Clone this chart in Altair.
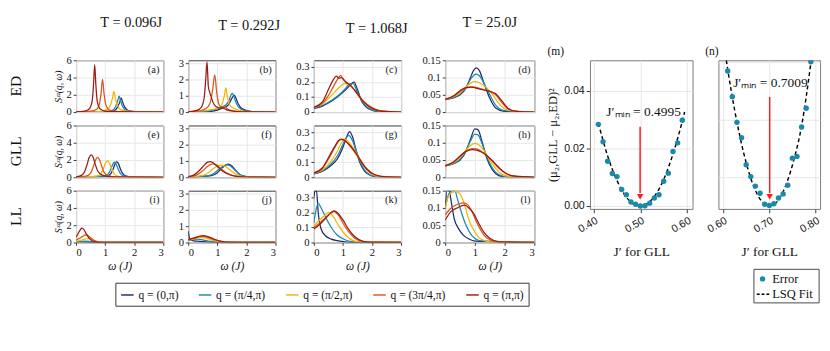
import altair as alt
import pandas as pd

SERIF = "Liberation Serif"
SANS = "Liberation Sans"

Q_LABELS = ["q = (0,π)", "q = (π/4,π)", "q = (π/2,π)", "q = (3π/4,π)", "q = (π,π)"]
Q_COLORS = ["#1d2b6e", "#1d88b2", "#f3b600", "#d8561d", "#9c1b10"]

TEMPS = ["T = 0.096J", "T = 0.292J", "T = 1.068J", "T = 25.0J"]
TITLE_DX = [12, 18, 20, 0]
METHODS = ["ED", "GLL", "LL"]
LETTERS = list("abcdefghijkl")
OMEGA_TICKS = [0, 1, 2, 3]
Y_DOMAINS = [[0, 6], [0, 3.2], [0, 0.345], [0, 0.15]]
Y_TICKS = [[0, 2, 4, 6], [0, 1, 2, 3], [0, 0.1, 0.2, 0.3], [0, 0.05, 0.1, 0.15]]
Y_FORMATS = ["d", "d", ".1~f", ".2~f"]
Y_EXTENT = [None, 16, 25, 29]

# ---- spectra: each panel lists (omega, S) for q = (0,pi), (pi/4,pi), (pi/2,pi), (3pi/4,pi), (pi,pi)
ED_A = [
    ([0, 1.05, 1.32, 1.43, 1.5, 1.55, 1.6, 1.67, 1.8, 2.05, 2.5, 3], [0.01, 0.04, 0.18, 0.6, 1.15, 1.65, 1.15, 0.6, 0.18, 0.05, 0.01, 0]),
    ([0, 1.0, 1.25, 1.36, 1.43, 1.48, 1.53, 1.6, 1.72, 2.0, 2.4, 3], [0.01, 0.05, 0.2, 0.65, 1.3, 1.85, 1.3, 0.65, 0.2, 0.06, 0.02, 0]),
    ([0, 0.8, 1.05, 1.18, 1.25, 1.3, 1.35, 1.42, 1.55, 1.8, 2.2, 3], [0.01, 0.06, 0.25, 0.8, 1.6, 2.4, 1.6, 0.8, 0.25, 0.08, 0.02, 0]),
    ([0, 0.5, 0.7, 0.8, 0.86, 0.91, 0.96, 1.02, 1.12, 1.3, 1.7, 3], [0.02, 0.1, 0.3, 0.9, 2.2, 3.8, 2.2, 0.9, 0.3, 0.1, 0.03, 0]),
    ([0, 0.3, 0.45, 0.55, 0.6, 0.64, 0.68, 0.73, 0.83, 1.0, 1.3, 3], [0.03, 0.12, 0.35, 1.2, 3.2, 5.5, 3.2, 1.2, 0.35, 0.12, 0.04, 0]),
]
ED_B = [
    ([0, 0.7, 1.0, 1.2, 1.38, 1.5, 1.55, 1.58, 1.63, 1.72, 1.88, 2.2, 3], [0.01, 0.03, 0.12, 0.25, 0.45, 0.85, 1.0, 1.05, 0.9, 0.5, 0.18, 0.03, 0]),
    ([0, 0.6, 0.9, 1.1, 1.3, 1.42, 1.48, 1.52, 1.57, 1.65, 1.8, 2.1, 3], [0.01, 0.04, 0.15, 0.28, 0.45, 0.8, 1.1, 1.15, 0.95, 0.55, 0.2, 0.04, 0]),
    ([0, 0.5, 0.8, 1.05, 1.18, 1.25, 1.29, 1.34, 1.42, 1.55, 1.75, 2.1, 3], [0.01, 0.08, 0.15, 0.25, 0.6, 1.1, 1.5, 1.0, 0.45, 0.25, 0.1, 0.02, 0]),
    ([0, 0.4, 0.6, 0.75, 0.84, 0.91, 0.98, 1.05, 1.15, 1.25, 1.45, 1.8, 3], [0.02, 0.08, 0.2, 0.55, 1.4, 2.3, 1.2, 0.5, 0.3, 0.3, 0.1, 0.02, 0]),
    ([0, 0.3, 0.45, 0.55, 0.6, 0.645, 0.69, 0.74, 0.78, 0.85, 0.95, 1.1, 1.17, 1.3, 1.6, 2.0, 3], [0.02, 0.1, 0.3, 0.9, 2.0, 3.1, 1.6, 1.2, 1.0, 0.6, 0.35, 0.25, 0.26, 0.15, 0.05, 0.01, 0]),
]
ED_C = [
    ([0, 0.3, 0.5, 0.7, 0.9, 1.1, 1.25, 1.38, 1.5, 1.65, 2.0, 2.3, 3], [0.025, 0.04, 0.06, 0.085, 0.115, 0.15, 0.18, 0.2, 0.15, 0.07, 0.012, 0.002, 0]),
    ([0, 0.3, 0.5, 0.7, 0.9, 1.1, 1.25, 1.35, 1.5, 1.7, 2.0, 2.3, 3], [0.028, 0.045, 0.065, 0.09, 0.12, 0.16, 0.19, 0.19, 0.13, 0.06, 0.015, 0.003, 0]),
    ([0, 0.3, 0.5, 0.7, 0.9, 1.05, 1.2, 1.35, 1.5, 1.7, 2.0, 2.3, 3], [0.03, 0.055, 0.09, 0.13, 0.17, 0.19, 0.185, 0.16, 0.12, 0.07, 0.025, 0.006, 0]),
    ([0, 0.3, 0.5, 0.7, 0.85, 0.92, 1.0, 1.1, 1.3, 1.5, 1.7, 2.0, 2.3, 3], [0.03, 0.06, 0.11, 0.18, 0.23, 0.245, 0.22, 0.2, 0.17, 0.12, 0.075, 0.03, 0.008, 0]),
    ([0, 0.3, 0.5, 0.65, 0.78, 0.85, 0.95, 1.1, 1.3, 1.5, 1.7, 2.0, 2.3, 3], [0.032, 0.07, 0.15, 0.21, 0.24, 0.225, 0.23, 0.2, 0.17, 0.12, 0.07, 0.025, 0.007, 0]),
]
ED_D = [
    ([0, 0.3, 0.5, 0.7, 0.85, 0.95, 1.05, 1.15, 1.3, 1.5, 1.7, 2.0, 3], [0.037, 0.042, 0.05, 0.07, 0.1, 0.12, 0.128, 0.12, 0.085, 0.04, 0.012, 0.002, 0]),
    ([0, 0.3, 0.5, 0.7, 0.85, 1.05, 1.2, 1.35, 1.5, 1.7, 2.0, 3], [0.037, 0.043, 0.052, 0.072, 0.095, 0.11, 0.1, 0.075, 0.05, 0.02, 0.004, 0]),
    ([0, 0.3, 0.5, 0.7, 0.85, 1.0, 1.2, 1.4, 1.6, 1.8, 2.1, 3], [0.037, 0.045, 0.056, 0.073, 0.084, 0.088, 0.083, 0.07, 0.05, 0.025, 0.006, 0]),
    ([0, 0.3, 0.5, 0.7, 0.9, 1.1, 1.3, 1.5, 1.7, 1.9, 2.1, 2.4, 3], [0.037, 0.047, 0.06, 0.07, 0.073, 0.07, 0.065, 0.06, 0.05, 0.028, 0.01, 0.002, 0]),
    ([0, 0.3, 0.5, 0.7, 0.9, 1.1, 1.3, 1.5, 1.7, 1.9, 2.1, 2.4, 3], [0.037, 0.048, 0.062, 0.071, 0.072, 0.068, 0.064, 0.06, 0.053, 0.033, 0.012, 0.002, 0]),
]
GLL_E = [
    ([0, 1.08, 1.2, 1.28, 1.34, 1.4, 1.46, 1.52, 1.6, 1.73, 2.0, 3], [0.01, 0.13, 0.45, 1.0, 1.55, 1.8, 1.55, 1.0, 0.45, 0.13, 0.02, 0]),
    ([0, 1.0, 1.12, 1.2, 1.26, 1.32, 1.38, 1.44, 1.52, 1.65, 1.95, 3], [0.01, 0.13, 0.45, 1.0, 1.5, 1.75, 1.5, 1.0, 0.45, 0.13, 0.02, 0]),
    ([0, 0.75, 0.87, 0.95, 1.01, 1.08, 1.15, 1.21, 1.29, 1.42, 1.7, 3], [0.01, 0.15, 0.5, 1.1, 1.65, 1.9, 1.65, 1.1, 0.5, 0.15, 0.02, 0]),
    ([0, 0.4, 0.52, 0.6, 0.67, 0.74, 0.81, 0.88, 0.96, 1.1, 1.4, 3], [0.02, 0.2, 0.6, 1.3, 2.0, 2.3, 2.0, 1.3, 0.6, 0.2, 0.03, 0]),
    ([0, 0.2, 0.3, 0.38, 0.45, 0.52, 0.59, 0.66, 0.75, 0.9, 1.2, 3], [0.05, 0.25, 0.7, 1.5, 2.3, 2.6, 2.3, 1.5, 0.7, 0.25, 0.05, 0]),
]
GLL_F = [
    ([0, 0.8, 1.0, 1.12, 1.25, 1.37, 1.5, 1.62, 1.75, 1.95, 2.2, 3], [0.01, 0.1, 0.28, 0.5, 0.72, 0.81, 0.7, 0.45, 0.2, 0.05, 0.01, 0]),
    ([0, 0.7, 0.9, 1.05, 1.2, 1.32, 1.45, 1.6, 1.75, 1.95, 2.2, 3], [0.01, 0.1, 0.27, 0.48, 0.68, 0.77, 0.7, 0.45, 0.2, 0.05, 0.01, 0]),
    ([0, 0.5, 0.7, 0.85, 1.0, 1.12, 1.25, 1.4, 1.55, 1.75, 2.0, 3], [0.02, 0.12, 0.3, 0.52, 0.7, 0.75, 0.7, 0.5, 0.3, 0.1, 0.02, 0]),
    ([0, 0.3, 0.5, 0.65, 0.75, 0.85, 0.95, 1.05, 1.2, 1.4, 1.7, 2.0, 3], [0.03, 0.15, 0.4, 0.65, 0.78, 0.83, 0.78, 0.65, 0.42, 0.2, 0.05, 0.01, 0]),
    ([0, 0.2, 0.4, 0.55, 0.65, 0.75, 0.85, 0.95, 1.1, 1.3, 1.6, 2.0, 3], [0.04, 0.15, 0.45, 0.75, 0.92, 0.97, 0.9, 0.75, 0.5, 0.25, 0.07, 0.01, 0]),
]
GLL_G = [
    ([0, 0.3, 0.6, 0.8, 1.0, 1.13, 1.23, 1.33, 1.45, 1.6, 1.8, 2.1, 3], [0.022, 0.04, 0.08, 0.12, 0.2, 0.27, 0.305, 0.27, 0.18, 0.09, 0.03, 0.005, 0]),
    ([0, 0.3, 0.6, 0.8, 1.0, 1.1, 1.2, 1.3, 1.45, 1.6, 1.8, 2.1, 3], [0.024, 0.045, 0.09, 0.14, 0.22, 0.26, 0.28, 0.255, 0.18, 0.1, 0.035, 0.006, 0]),
    ([0, 0.3, 0.6, 0.8, 0.95, 1.05, 1.15, 1.3, 1.5, 1.7, 1.9, 2.2, 3], [0.026, 0.05, 0.11, 0.17, 0.23, 0.255, 0.245, 0.21, 0.15, 0.085, 0.035, 0.007, 0]),
    ([0, 0.3, 0.5, 0.7, 0.85, 0.95, 1.05, 1.2, 1.4, 1.6, 1.8, 2.1, 2.5, 3], [0.028, 0.06, 0.12, 0.19, 0.24, 0.255, 0.25, 0.22, 0.17, 0.11, 0.055, 0.015, 0.002, 0]),
    ([0, 0.3, 0.5, 0.7, 0.85, 0.93, 1.05, 1.2, 1.4, 1.6, 1.8, 2.1, 2.5, 3], [0.03, 0.065, 0.13, 0.2, 0.245, 0.252, 0.245, 0.22, 0.175, 0.115, 0.06, 0.017, 0.002, 0]),
]
GLL_H = [
    ([0, 0.3, 0.5, 0.7, 0.85, 1.0, 1.1, 1.25, 1.4, 1.6, 1.8, 2.1, 3], [0.033, 0.04, 0.05, 0.075, 0.11, 0.14, 0.138, 0.1, 0.055, 0.02, 0.005, 0.001, 0]),
    ([0, 0.3, 0.5, 0.7, 0.85, 1.0, 1.1, 1.25, 1.4, 1.6, 1.8, 2.1, 3], [0.033, 0.041, 0.052, 0.078, 0.105, 0.125, 0.123, 0.095, 0.06, 0.025, 0.008, 0.001, 0]),
    ([0, 0.3, 0.5, 0.7, 0.85, 1.0, 1.15, 1.3, 1.5, 1.7, 1.9, 2.2, 3], [0.033, 0.043, 0.057, 0.078, 0.092, 0.098, 0.093, 0.078, 0.05, 0.025, 0.009, 0.002, 0]),
    ([0, 0.3, 0.5, 0.7, 0.9, 1.05, 1.2, 1.4, 1.6, 1.8, 2.0, 2.3, 3], [0.033, 0.045, 0.06, 0.075, 0.083, 0.082, 0.076, 0.063, 0.045, 0.027, 0.013, 0.003, 0]),
    ([0, 0.3, 0.5, 0.7, 0.9, 1.05, 1.2, 1.4, 1.6, 1.8, 2.0, 2.3, 3], [0.033, 0.046, 0.062, 0.075, 0.08, 0.079, 0.074, 0.063, 0.047, 0.029, 0.014, 0.004, 0]),
]
LL_I = [
    ([0, 0.05, 0.2, 0.4, 0.6, 0.8, 3], [0.12, 0.08, 0.06, 0.04, 0.02, 0.005, 0]),
    ([0, 0.15, 0.3, 0.45, 0.6, 0.8, 3], [0.08, 0.12, 0.15, 0.12, 0.06, 0.015, 0]),
    ([0, 0.15, 0.3, 0.42, 0.5, 0.6, 0.75, 0.95, 3], [0.15, 0.25, 0.38, 0.45, 0.4, 0.25, 0.08, 0.01, 0]),
    ([0, 0.1, 0.2, 0.3, 0.36, 0.45, 0.55, 0.7, 0.9, 3], [0.3, 0.45, 0.65, 0.85, 0.88, 0.7, 0.4, 0.12, 0.02, 0]),
    ([0, 0.08, 0.15, 0.2, 0.27, 0.35, 0.45, 0.55, 0.7, 0.9, 3], [0.6, 1.1, 1.5, 1.67, 1.5, 1.0, 0.5, 0.2, 0.05, 0.01, 0]),
]
LL_J = [
    ([0, 0.03, 0.06, 0.15, 0.3, 0.5, 0.8, 1.1, 3], [0.7, 0.35, 0.2, 0.12, 0.08, 0.05, 0.02, 0.005, 0]),
    ([0, 0.15, 0.3, 0.45, 0.65, 0.9, 1.2, 3], [0.12, 0.18, 0.2, 0.17, 0.1, 0.03, 0.005, 0]),
    ([0, 0.2, 0.4, 0.55, 0.75, 1.0, 1.3, 3], [0.15, 0.22, 0.3, 0.28, 0.18, 0.06, 0.01, 0]),
    ([0, 0.2, 0.4, 0.5, 0.7, 0.9, 1.15, 1.4, 3], [0.17, 0.26, 0.36, 0.38, 0.3, 0.16, 0.05, 0.01, 0]),
    ([0, 0.2, 0.4, 0.5, 0.7, 0.9, 1.15, 1.4, 3], [0.18, 0.28, 0.4, 0.42, 0.35, 0.2, 0.07, 0.015, 0]),
]
LL_K = [
    ([0, 0.04, 0.09, 0.15, 0.25, 0.4, 0.6, 0.8, 1.0, 1.3, 3], [0.3, 0.345, 0.345, 0.2, 0.09, 0.045, 0.022, 0.012, 0.005, 0.001, 0]),
    ([0, 0.08, 0.15, 0.25, 0.4, 0.6, 0.8, 1.0, 1.3, 1.6, 3], [0.13, 0.22, 0.26, 0.23, 0.17, 0.1, 0.05, 0.025, 0.005, 0.001, 0]),
    ([0, 0.2, 0.4, 0.5, 0.6, 0.8, 1.0, 1.2, 1.5, 3], [0.11, 0.15, 0.185, 0.2, 0.19, 0.13, 0.07, 0.03, 0.005, 0]),
    ([0, 0.2, 0.4, 0.6, 0.7, 0.85, 1.0, 1.2, 1.4, 1.7, 3], [0.1, 0.13, 0.165, 0.2, 0.205, 0.18, 0.13, 0.07, 0.03, 0.005, 0]),
    ([0, 0.2, 0.4, 0.6, 0.7, 0.85, 1.0, 1.2, 1.4, 1.7, 2.0, 3], [0.09, 0.12, 0.16, 0.2, 0.21, 0.19, 0.15, 0.085, 0.04, 0.008, 0.001, 0]),
]
LL_L = [
    ([0, 0.06, 0.13, 0.2, 0.3, 0.45, 0.6, 0.8, 1.0, 3], [0.1, 0.15, 0.15, 0.12, 0.07, 0.04, 0.022, 0.01, 0.004, 0]),
    ([0, 0.12, 0.24, 0.33, 0.4, 0.5, 0.7, 0.9, 1.2, 3], [0.1, 0.14, 0.15, 0.15, 0.13, 0.1, 0.05, 0.02, 0.005, 0]),
    ([0, 0.15, 0.35, 0.5, 0.65, 0.8, 1.0, 1.2, 1.5, 3], [0.1, 0.14, 0.148, 0.14, 0.11, 0.065, 0.03, 0.01, 0.002, 0]),
    ([0, 0.2, 0.4, 0.6, 0.75, 0.9, 1.05, 1.2, 1.4, 1.7, 3], [0.08, 0.1, 0.11, 0.115, 0.11, 0.09, 0.06, 0.035, 0.013, 0.003, 0]),
    ([0, 0.2, 0.4, 0.65, 0.8, 0.95, 1.1, 1.3, 1.5, 1.8, 3], [0.065, 0.09, 0.1, 0.108, 0.1, 0.085, 0.06, 0.03, 0.012, 0.002, 0]),
]
SPECTRA = [ED_A, ED_B, ED_C, ED_D, GLL_E, GLL_F, GLL_G, GLL_H, LL_I, LL_J, LL_K, LL_L]

# ---- fit panels
M_J = [0.41, 0.42, 0.43, 0.44, 0.45, 0.46, 0.47, 0.48, 0.49, 0.50, 0.51, 0.52, 0.53, 0.54, 0.55, 0.56, 0.57, 0.58, 0.59]
M_ERR = [0.0283, 0.0223, 0.0155, 0.0113, 0.0102, 0.0057, 0.0039, 0.0014, 0.0006, 0.0, 0.0001, 0.0010, 0.0028, 0.0039, 0.0086, 0.0114, 0.0189, 0.0219, 0.0297]
M_FIT_J = [0.41, 0.43, 0.45, 0.47, 0.49, 0.50, 0.51, 0.53, 0.55, 0.57, 0.59, 0.595]
M_FIT = [0.0287, 0.0173, 0.0088, 0.0031, 0.0003, 0.0, 0.0004, 0.0033, 0.0092, 0.0180, 0.0294, 0.0326]
N_J = [0.61, 0.62, 0.63, 0.64, 0.65, 0.66, 0.67, 0.68, 0.69, 0.70, 0.71, 0.72, 0.73, 0.74, 0.75, 0.76, 0.77, 0.78, 0.79]
N_ERR = [0.0468, 0.0379, 0.0290, 0.0237, 0.0143, 0.0102, 0.0069, 0.0044, 0.0006, 0.0002, 0.0008, 0.0028, 0.0042, 0.0072, 0.0166, 0.0172, 0.0274, 0.0339, 0.0500]
N_FIT_J = [0.607, 0.61, 0.63, 0.65, 0.67, 0.69, 0.70, 0.71, 0.73, 0.75, 0.77, 0.79]
N_FIT = [0.0505, 0.0474, 0.0291, 0.0150, 0.0054, 0.0007, 0.0, 0.0005, 0.0050, 0.0141, 0.0278, 0.0495]
J_MIN = [0.4995, 0.7009]
ARROW_TOP = [0.0275, 0.0378]
LABEL_POS = [(0.507, 0.0325), (0.7024, 0.0425)]
TEAL = "#1a8aa8"

Q_LEGEND = alt.Legend(
    title=None, orient="none", legendX=41, legendY=232, direction="horizontal",
    columns=5, symbolType="stroke", symbolStrokeWidth=1.5, symbolSize=170,
    labelFont=SERIF, labelFontSize=12, labelColor="#111", strokeColor="#333",
    padding=5, columnPadding=17, labelOffset=4,
)


def spectra_frame(panel):
    rows = []
    for label, (ws, ss) in zip(Q_LABELS, panel):
        for w, s in zip(ws, ss):
            rows.append({"q": label, "w": w, "s": s})
    return pd.DataFrame(rows)


def spectrum_panel(i):
    r, c = divmod(i, 4)
    w = 93 if c == 3 else 91
    h = 54
    bottom = r == 2
    if bottom:
        xaxis = alt.Axis(values=OMEGA_TICKS, tickSize=3, labelPadding=2, title="ω (J)",
                         titleFontSize=12, titleFontStyle="italic", titlePadding=3)
    else:
        xaxis = alt.Axis(values=OMEGA_TICKS, labels=False, ticks=False, title=None)
    if c == 0:
        yaxis = alt.Axis(values=Y_TICKS[c], format=Y_FORMATS[c], tickSize=3, labelPadding=2,
                         title="Sᶻᶻ(q, ω)", titleFontSize=10, titleFontStyle="italic", titlePadding=3)
    else:
        yaxis = alt.Axis(values=Y_TICKS[c], format=Y_FORMATS[c], tickSize=3, labelPadding=2, title=None,
                         minExtent=Y_EXTENT[c], maxExtent=Y_EXTENT[c])
    lines = alt.Chart(spectra_frame(SPECTRA[i])).mark_line(
        clip=True, strokeWidth=1.3, interpolate="monotone"
    ).encode(
        x=alt.X("w:Q", scale=alt.Scale(domain=[0, 3], nice=False), axis=xaxis),
        y=alt.Y("s:Q", scale=alt.Scale(domain=Y_DOMAINS[c], nice=False), axis=yaxis),
        color=alt.Color("q:N", scale=alt.Scale(domain=Q_LABELS, range=Q_COLORS), legend=Q_LEGEND),
    )
    letter = alt.Chart(pd.DataFrame({"t": [f"({LETTERS[i]})"]})).mark_text(
        align="right", baseline="top", font=SERIF, fontSize=11, color="#222"
    ).encode(x=alt.value(w - 4), y=alt.value(4), text="t:N")
    layers = [lines, letter]
    if c == 0:
        layers.append(
            alt.Chart(pd.DataFrame({"t": [METHODS[r]]})).mark_text(
                angle=270, font=SERIF, fontSize=16, color="#111"
            ).encode(x=alt.value(-62), y=alt.value(h / 2), text="t:N")
        )
    ch = alt.layer(*layers).properties(width=w, height=h)
    if r == 0:
        ch = ch.properties(title=alt.TitleParams(
            TEMPS[c], font=SERIF, fontSize=15, fontWeight="normal", offset=26, dx=TITLE_DX[c], color="#111"))
    return ch


def fit_panel(k):
    js, errs = (M_J, M_ERR) if k == 0 else (N_J, N_ERR)
    fj, fy = (M_FIT_J, M_FIT) if k == 0 else (N_FIT_J, N_FIT)
    xdom = [0.392, 0.612] if k == 0 else [0.59, 0.81]
    xt = [0.40, 0.45, 0.50, 0.55, 0.60] if k == 0 else [0.60, 0.65, 0.70, 0.75, 0.80]
    w = 107 if k == 0 else 106
    h = 155
    xs = alt.Scale(domain=xdom, nice=False)
    ys = alt.Scale(domain=[-0.001, 0.0505], nice=False, zero=False)
    xaxis = alt.Axis(values=xt, format=".2f", labelAngle=330, labelFont=SANS, labelFontSize=11,
                     tickSize=4, title="J′ for GLL", titleFont=SERIF, titleFontSize=14, titlePadding=11)
    if k == 0:
        yaxis = alt.Axis(values=[0, 0.02, 0.04], format=".2f", labelFont=SANS, labelFontSize=11,
                         tickSize=4, title="(μ₂,GLL − μ₂,ED)²", titleFont=SERIF, titleFontSize=13, titlePadding=4)
    else:
        yaxis = alt.Axis(values=[0.01, 0.03, 0.05], labels=False, ticks=False, title=None)
    fit = alt.Chart(pd.DataFrame({"j": fj, "e": fy})).mark_line(
        color="black", strokeDash=[4, 3], strokeWidth=1.5, clip=True, interpolate="monotone"
    ).encode(x=alt.X("j:Q", scale=xs, axis=xaxis), y=alt.Y("e:Q", scale=ys, axis=yaxis))
    pts = alt.Chart(pd.DataFrame({"j": js, "e": errs})).mark_circle(
        size=32, color=TEAL, opacity=1, clip=True
    ).encode(x="j:Q", y="e:Q")
    arrow = alt.Chart(pd.DataFrame({"j": [J_MIN[k]], "y1": [ARROW_TOP[k]], "y2": [0.0045]})).mark_rule(
        color="#ff1a1a", strokeWidth=1.5
    ).encode(x="j:Q", y="y1:Q", y2="y2:Q")
    head = alt.Chart(pd.DataFrame({"j": [J_MIN[k]], "y": [0.0032]})).mark_point(
        shape="triangle-down", filled=True, size=45, color="#ff1a1a", opacity=1
    ).encode(x="j:Q", y="y:Q")
    lx, ly = LABEL_POS[k]
    lab = alt.Chart(pd.DataFrame({"j": [lx], "y": [ly], "t": [f"J′ₘᵢₙ = {J_MIN[k]:.4f}"]})).mark_text(
        font=SERIF, fontSize=14, color="#111"
    ).encode(x="j:Q", y="y:Q", text="t:N")
    layers = [fit, pts, arrow, head, lab]
    if k == 1:
        box = alt.Chart(pd.DataFrame({"a": [0]})).mark_rect(fill="white", stroke="#444", strokeWidth=1).encode(
            x=alt.value(37), x2=alt.value(105), y=alt.value(218), y2=alt.value(253))
        dot = alt.Chart(pd.DataFrame({"a": [0]})).mark_circle(size=32, color=TEAL, opacity=1).encode(
            x=alt.value(46), y=alt.value(228))
        dash = alt.Chart(pd.DataFrame({"a": [0]})).mark_rule(color="black", strokeDash=[3, 2], strokeWidth=1.5).encode(
            x=alt.value(40), x2=alt.value(53), y=alt.value(244))
        t1 = alt.Chart(pd.DataFrame({"t": ["Error"]})).mark_text(align="left", font=SERIF, fontSize=13, color="#111").encode(
            x=alt.value(56), y=alt.value(228), text="t:N")
        t2 = alt.Chart(pd.DataFrame({"t": ["LSQ Fit"]})).mark_text(align="left", font=SERIF, fontSize=13, color="#111").encode(
            x=alt.value(56), y=alt.value(244), text="t:N")
        layers += [box, dot, dash, t1, t2]
    ch = alt.layer(*layers).properties(
        width=w, height=h, view=alt.ViewBackground(stroke="#777"),
        title=alt.TitleParams("(m)" if k == 0 else "(n)", anchor="start", font=SERIF, fontSize=12,
                              fontWeight="normal", offset=3, color="#111"),
    )
    return ch


left = alt.concat(*[spectrum_panel(i) for i in range(12)], columns=4,
                  spacing={"row": 1, "column": 8}, align="each")
right = alt.hconcat(fit_panel(0), fit_panel(1), spacing=11)

chart = alt.hconcat(left, right, spacing=12).properties(
    padding={"left": 0, "top": 0, "right": 0, "bottom": 0}
).configure(font=SERIF).configure_axis(
    gridColor="#e6e6e6", domain=False, tickColor="#333", labelFont=SERIF, labelFontSize=11,
    labelColor="#111", titleFont=SERIF, titleColor="#111", titleFontWeight="normal",
).configure_view(stroke="#333", strokeWidth=1)

chart.save("out.html", embed_options={"renderer": "svg", "actions": False})
